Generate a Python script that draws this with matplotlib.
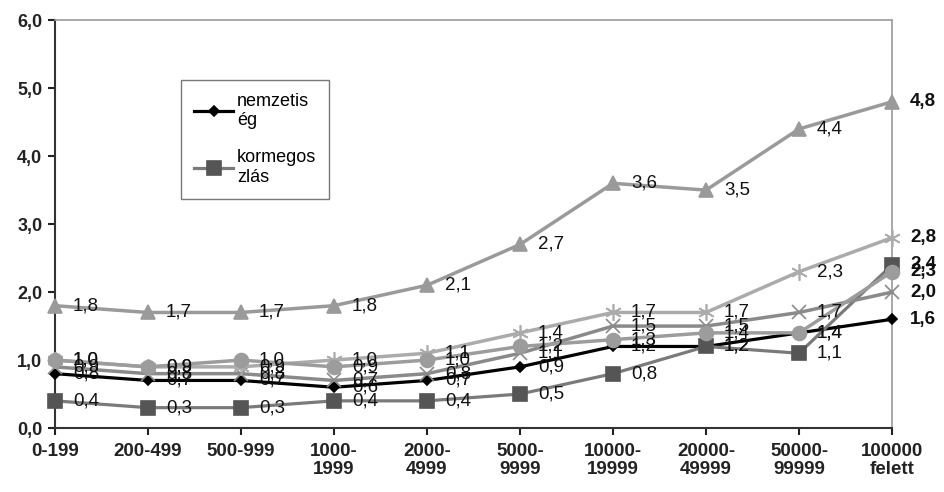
import numpy as np
import matplotlib
matplotlib.use('Agg')
import matplotlib.pyplot as plt

plt.rcParams['font.family'] = ['Liberation Sans', 'DejaVu Sans']

categories = ['0-199', '200-499', '500-999', '1000-\n1999', '2000-\n4999', '5000-\n9999',
              '10000-\n19999', '20000-\n49999', '50000-\n99999', '100000\nfelett']

nemzetiseg = [0.8, 0.7, 0.7, 0.6, 0.7, 0.9, 1.2, 1.2, 1.4, 1.6]
kormegoszlas = [0.4, 0.3, 0.3, 0.4, 0.4, 0.5, 0.8, 1.2, 1.1, 2.4]
triangle_vals = [1.8, 1.7, 1.7, 1.8, 2.1, 2.7, 3.6, 3.5, 4.4, 4.8]
x_vals = [0.9, 0.8, 0.8, 0.7, 0.8, 1.1, 1.5, 1.5, 1.7, 2.0]
star_vals = [1.0, 0.9, 0.9, 1.0, 1.1, 1.4, 1.7, 1.7, 2.3, 2.8]
circle_vals = [1.0, 0.9, 1.0, 0.9, 1.0, 1.2, 1.3, 1.4, 1.4, 2.3]

legend_names = ['nemzetis\nég', 'kormegos\nzlás']

x = np.arange(len(categories))

fig = plt.figure(figsize=(9.45, 4.92), dpi=100)
ax = fig.add_axes([0.058, 0.130, 0.886, 0.829])

series = [
    # values, line color, marker, marker color, markersize, lw, label
    (nemzetiseg, '#000000', 'D', '#000000', 5, 2.3, legend_names[0]),
    (kormegoszlas, '#7a7a7a', 's', '#555555', 10, 2.3, legend_names[1]),
    (triangle_vals, '#9a9a9a', '^', '#9a9a9a', 10, 2.5, None),
    (x_vals, '#8a8a8a', 'x', '#8a8a8a', 10, 2.5, None),
    (star_vals, '#ababab', (6, 2, 0), '#ababab', 12, 2.5, None),
    (circle_vals, '#9c9c9c', 'o', '#9c9c9c', 10, 2.5, None),
]

handles = []
for vals, lc, mk, mc, ms, lw, lab in series:
    line, = ax.plot(x, vals, color=lc, lw=lw, marker=mk, markersize=ms,
                    markerfacecolor=mc, markeredgecolor=mc, markeredgewidth=1.2,
                    label=lab, clip_on=False, zorder=3)
    if lab is not None:
        handles.append(line)
    for i, v in enumerate(vals):
        last = i == len(vals) - 1
        ax.annotate(f'{v:.1f}'.replace('.', ','), (x[i], v), xytext=(13, 0),
                    textcoords='offset points', ha='left', va='center',
                    fontsize=13.5, fontweight='bold' if last else 'normal',
                    color='#111111', zorder=4, annotation_clip=False)

ax.set_xlim(0, 9)
ax.set_ylim(0, 6)
ax.set_yticks(np.arange(0, 6.1, 1.0))
ax.set_yticklabels([f'{t:.1f}'.replace('.', ',') for t in np.arange(0, 6.1, 1.0)],
                   fontsize=13, fontweight='bold')
ax.set_xticks(x)
ax.set_xticklabels(categories, fontsize=13.5, fontweight='bold', linespacing=1.05)
ax.tick_params(axis='both', direction='out', length=5, width=1.5, colors='#222222')
ax.tick_params(axis='x', pad=6)
ax.tick_params(axis='y', pad=4)

for side in ['left', 'bottom']:
    ax.spines[side].set_color('#333333')
    ax.spines[side].set_linewidth(1.5)
for side in ['top', 'right']:
    ax.spines[side].set_color('#999999')
    ax.spines[side].set_linewidth(1.2)

leg = ax.legend(handles=handles, loc='upper left', bbox_to_anchor=(0.14, 0.875),
                fontsize=13, frameon=True, fancybox=False, edgecolor='#555555',
                handlelength=2.2, labelspacing=1.1, borderpad=0.7, handletextpad=0.2)
leg.get_frame().set_linewidth(1.0)

fig.savefig('out.png', dpi=100)
